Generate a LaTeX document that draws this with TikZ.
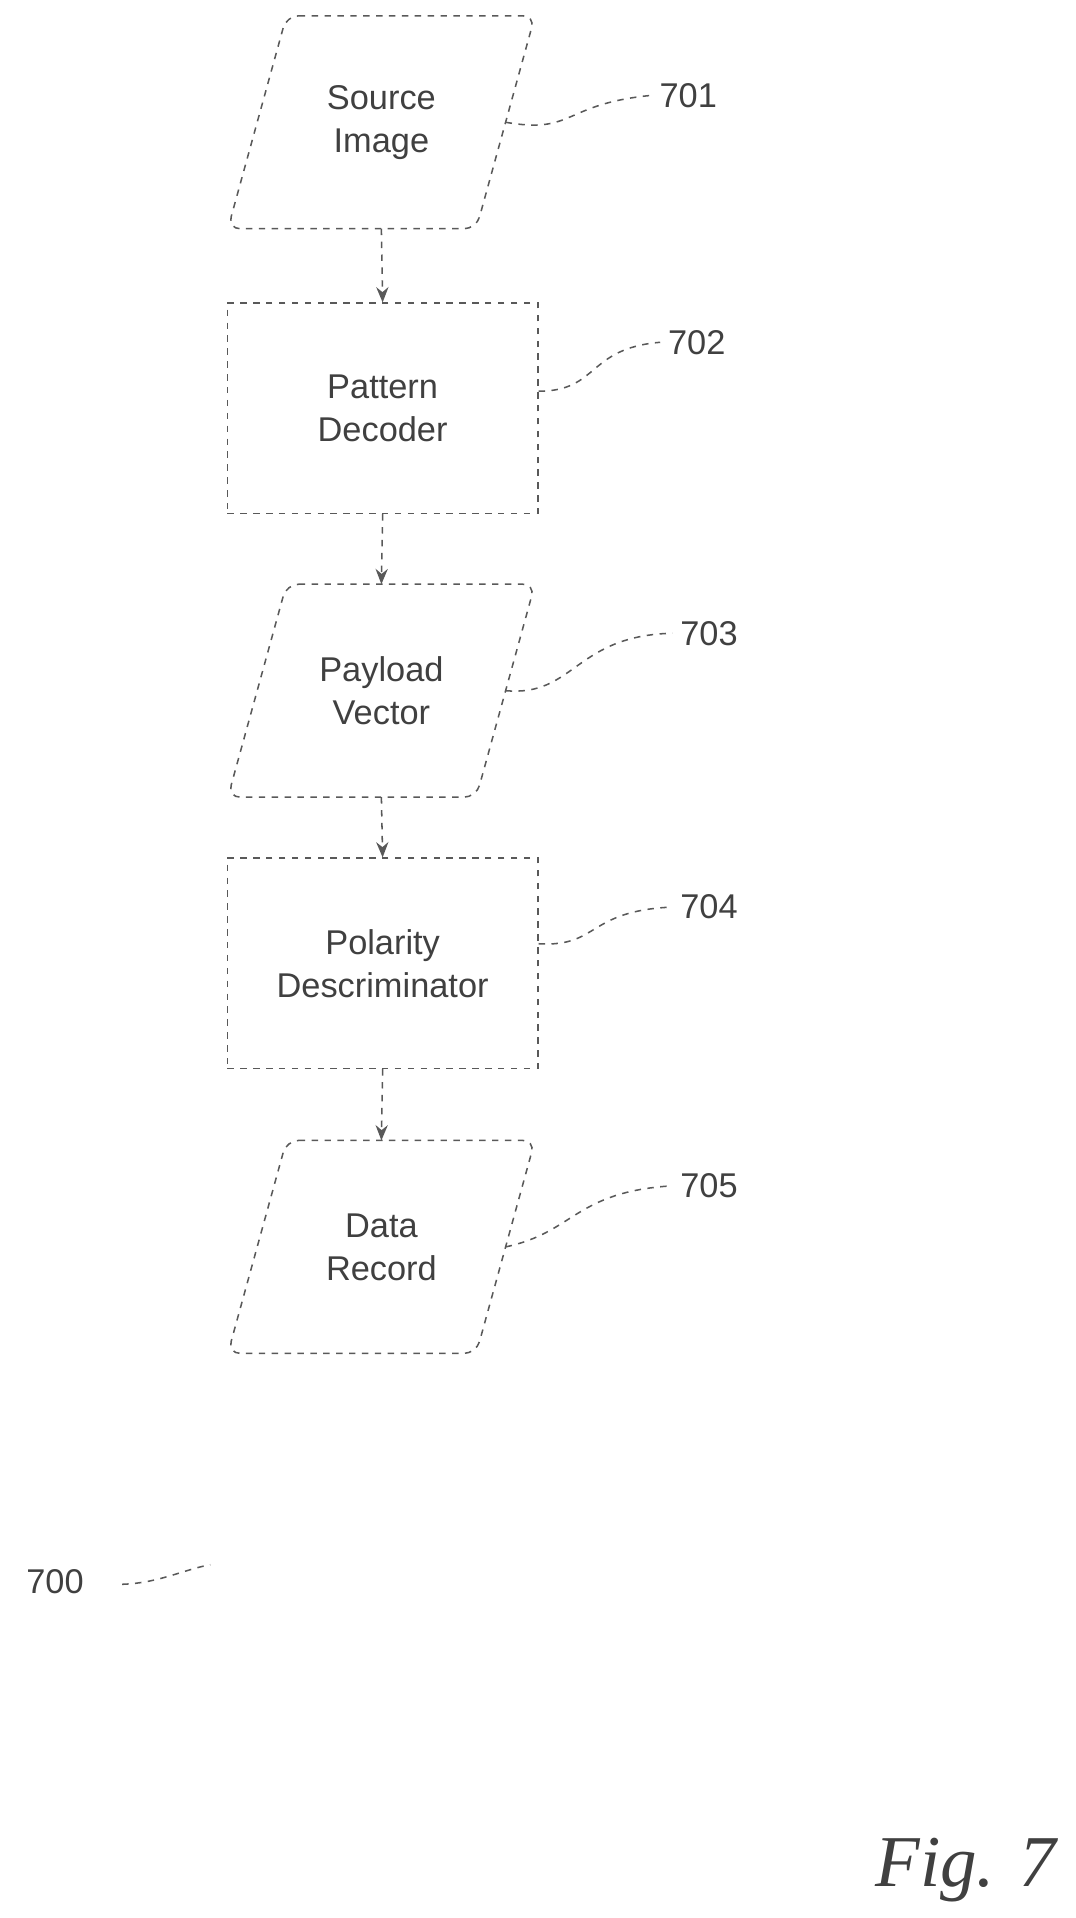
\documentclass[tikz,border=0pt]{standalone}
\usepackage{fontspec}
\setmainfont{Liberation Sans}
\newfontfamily\figfont{Liberation Serif}
\usetikzlibrary{calc,arrows.meta}
\begin{document}
\begin{tikzpicture}[x=0.02cm,y=-0.02cm,line width=.25mm,
    every node/.style={font=\fontsize{16}{20}\selectfont,text=black!75,align=center},
    io/.style={minimum width=4.04cm,minimum height=3.46cm,inner sep=0pt},
    proc/.style={draw=black!65,dashed,minimum width=5.08cm,minimum height=3.44cm,inner sep=0pt},
    flow/.style={draw=black!65,dashed,-{Stealth[length=2.5mm,width=2mm]}},
    lead/.style={draw=black!65,dashed}]
  \useasboundingbox (0,0) rectangle (880,1569);
  \pgfmathsetmacro{\s}{0.48}

  \node[io] (A) at (312,100) {Source\\Image};
  \node[proc] (B) at (313,334) {Pattern\\Decoder};
  \node[io] (C) at (312,565) {Payload\\Vector};
  \node[proc] (D) at (313,788) {Polarity\\Descriminator};
  \node[io] (E) at (312,1020) {Data\\Record};

  % slanted outlines of the input/output nodes
  \foreach \n in {A,C,E}
    \draw[draw=black!65,dashed,rounded corners=2mm]
      ($(\n.north west)+(\s cm,0)$) -- ($(\n.north east)+(\s cm,0)$) --
      ($(\n.south east)+(-\s cm,0)$) -- ($(\n.south west)+(-\s cm,0)$) -- cycle;

  \draw[flow] (A.south) -- (B.north);
  \draw[flow] (B.south) -- (C.north);
  \draw[flow] (C.south) -- (D.north);
  \draw[flow] (D.south) -- (E.north);

  \node (LA) at (563,78) {701};
  \node (LB) at (570,280) {702};
  \node (LC) at (580,518) {703};
  \node (LD) at (580,742) {704};
  \node (LE) at (580,970) {705};
  \node (L0) at (45,1294) {700};

  \draw[lead] (A.east) .. controls (470,110) and (460,85) .. (LA.west);
  \draw[lead] ($(B.east)+(0,-14)$) .. controls (490,320) and (480,285) .. (LB.west);
  \draw[lead] (C.east) .. controls (470,570) and (470,520) .. (LC.west);
  \draw[lead] ($(D.east)+(0,-16)$) .. controls (490,775) and (480,745) .. (LD.west);
  \draw[lead] (E.east) .. controls (470,1008) and (470,975) .. (LE.west);
  \coordinate (T0) at (172,1280);
  \draw[lead] (L0.east) ++(25,2) .. controls (130,1295) and (150,1284) .. (T0);

  \node[font=\fontsize{34}{38}\selectfont\figfont\itshape] (fig) at (790,1530) {Fig. 7};
\end{tikzpicture}
\end{document}
